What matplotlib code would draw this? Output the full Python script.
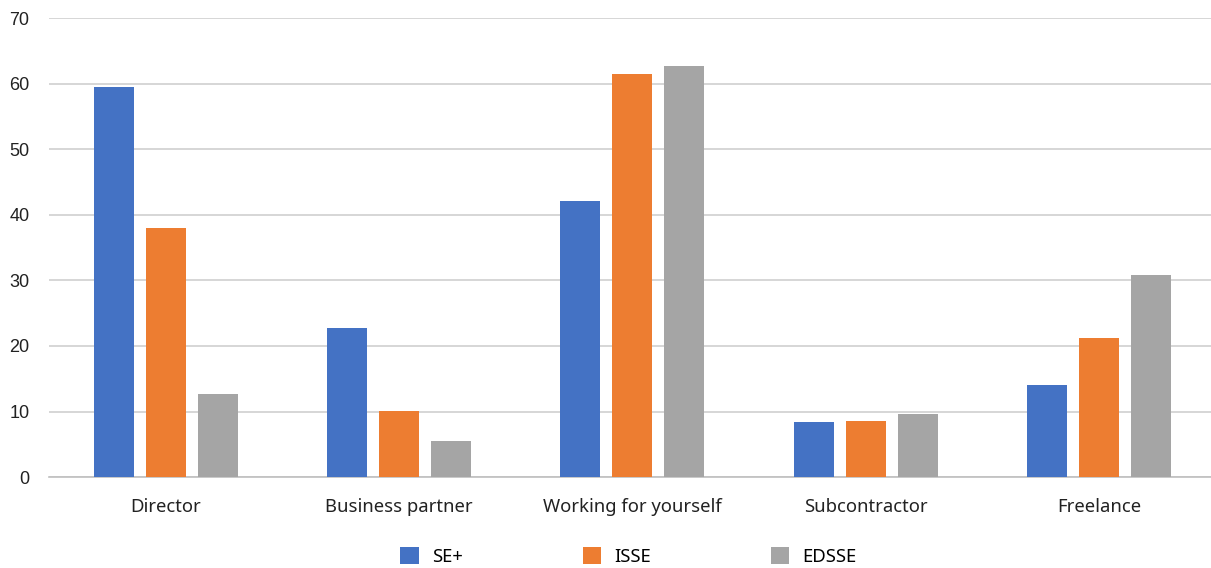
import numpy as np
import matplotlib.pyplot as plt

categories = ["Director", "Business partner", "Working for yourself", "Subcontractor", "Freelance"]
series_names = ["SE+", "ISSE", "EDSSE"]
se_plus = [59.5, 22.7, 42.1, 8.4, 14.0]
isse = [38.0, 10.1, 61.5, 8.5, 21.2]
edsse = [12.7, 5.5, 62.7, 9.6, 30.8]
colors = ["#4472C4", "#ED7D31", "#A5A5A5"]

plt.rcParams['font.family'] = ['Noto Sans', 'DejaVu Sans']

fig = plt.figure(figsize=(12.11, 5.68), dpi=100)
ax = fig.add_axes([0.0405, 0.160, 0.9595, 0.808])

x = np.arange(len(categories))
width = 0.171
step = 0.223
for i, (vals, name) in enumerate(zip([se_plus, isse, edsse], series_names)):
    ax.bar(x + (i - 1) * step, vals, width, color=colors[i], label=name, zorder=3)

ax.set_xlim(-0.5, 4.48)
ax.set_ylim(0, 70)
ax.set_yticks(range(0, 71, 10))
ax.set_xticks(x)
ax.set_xticklabels(categories, fontsize=13.3, color="#222222")
for lab in ax.get_yticklabels():
    lab.set_family(['Liberation Sans'])
    lab.set_fontsize(13)
    lab.set_color("#222222")
ax.tick_params(length=0)
ax.tick_params(axis='x', pad=15)
ax.tick_params(axis='y', pad=14)
ax.grid(axis='y', color="#D0D0D0", linewidth=1.2, zorder=0)
for s in ["top", "right", "left"]:
    ax.spines[s].set_visible(False)
ax.spines["bottom"].set_color("#BFBFBF")
ax.spines["bottom"].set_linewidth(1.2)

fig.legend(loc="center", bbox_to_anchor=(0.519, 0.020), ncol=3, frameon=False,
           fontsize=13.3, handlelength=1.0, handleheight=1.0, handletextpad=0.7,
           columnspacing=6.5)

fig.savefig("out.png", dpi=100)
